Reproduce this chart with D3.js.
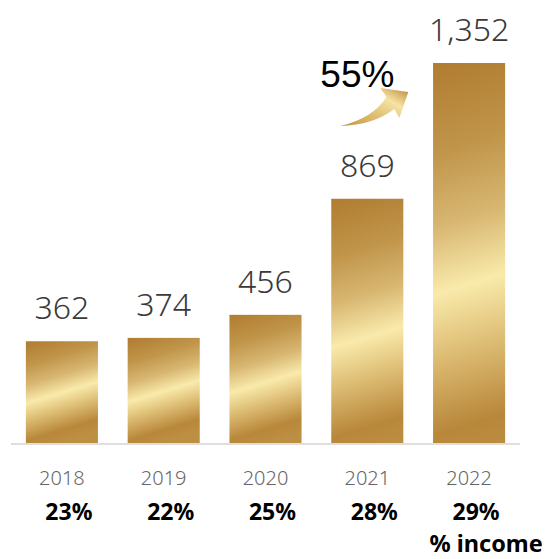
<!DOCTYPE html>
<html>
<head>
<meta charset="utf-8">
<script src="https://cdn.jsdelivr.net/npm/d3@7"></script>
<style>
  html, body { margin: 0; padding: 0; background: #fff; }
  svg { display: block; }
</style>
</head>
<body>
<svg id="chart" width="548" height="559"></svg>
<script>
// Annual figures and their share of income
const years = ["2018", "2019", "2020", "2021", "2022"];
const values = [362, 374, 456, 869, 1352];
const shares = ["23%", "22%", "25%", "28%", "29%"];
const growthLabel = "55%";
const shareTitle = "% income";

const svg = d3.select("#chart");
const baseY = 443;

const x = d3.scaleBand()
  .domain(years)
  .range([11, 520])
  .paddingInner(0.292)
  .paddingOuter(0.146);

const y = d3.scaleLinear()
  .domain([0, d3.max(values)])
  .range([baseY, 63]);

const fmt = d3.format(",");
const defs = svg.append("defs");

// gold sheen: dark top, pale band across the middle, dark again near the foot
const goldStops = [
  [0, "#b07c30"],
  [0.22, "#c0954a"],
  [0.40, "#d8b772"],
  [0.56, "#f9eaab"],
  [0.72, "#dcbb72"],
  [0.90, "#b8873a"],
  [1, "#bd8f42"]
];
const tilt = 0.3; // slope of the sheen band across a bar

const data = years.map((yr, i) => ({ year: yr, value: values[i], share: shares[i], i }));

data.forEach(d => {
  const x0 = x(d.year), y0 = y(d.value), h = baseY - y0;
  const g = defs.append("linearGradient")
    .attr("id", "gold" + d.i)
    .attr("gradientUnits", "userSpaceOnUse")
    .attr("x1", x0).attr("y1", y0)
    .attr("x2", x0 + tilt * h).attr("y2", y0 + h);
  goldStops.forEach(s => g.append("stop").attr("offset", s[0]).attr("stop-color", s[1]));
});

// baseline
svg.append("line")
  .attr("x1", 11).attr("x2", 520)
  .attr("y1", baseY + 1).attr("y2", baseY + 1)
  .attr("stroke", "#dedede")
  .attr("stroke-width", 2);

// bars
svg.append("g").selectAll("rect")
  .data(data)
  .join("rect")
  .attr("x", d => x(d.year))
  .attr("y", d => y(d.value))
  .attr("width", x.bandwidth())
  .attr("height", d => baseY - y(d.value))
  .attr("fill", d => `url(#gold${d.i})`);

// value labels
svg.append("g").selectAll("text")
  .data(data)
  .join("text")
  .attr("x", d => x(d.year) + x.bandwidth() / 2)
  .attr("y", d => y(d.value) - 22)
  .attr("text-anchor", "middle")
  .attr("font-family", "'Noto Sans', sans-serif")
  .attr("font-weight", 300)
  .attr("font-size", 32)
  .attr("fill", "#3a3a3a")
  .text(d => fmt(d.value));

// year labels
const xAxis = svg.append("g")
  .attr("transform", `translate(0,${baseY})`)
  .call(d3.axisBottom(x).tickSize(0).tickPadding(0));
xAxis.select(".domain").remove();
xAxis.selectAll("text")
  .attr("y", 42)
  .attr("dy", 0)
  .attr("font-family", "'Noto Sans', sans-serif")
  .attr("font-weight", 300)
  .attr("font-size", 20)
  .attr("fill", "#666");

// income share labels
svg.append("g").selectAll("text")
  .data(data)
  .join("text")
  .attr("x", d => x(d.year) + x.bandwidth() / 2 + 7)
  .attr("y", 520)
  .attr("text-anchor", "middle")
  .attr("font-family", "'Noto Sans', sans-serif")
  .attr("font-weight", 700)
  .attr("font-size", 23)
  .attr("fill", "#000")
  .text(d => d.share);

svg.append("text")
  .attr("x", x(years[4]) + x.bandwidth() / 2 + 17)
  .attr("y", 552)
  .attr("text-anchor", "middle")
  .attr("font-family", "'Noto Sans', sans-serif")
  .attr("font-weight", 700)
  .attr("font-size", 23.5)
  .attr("fill", "#000")
  .text(shareTitle);

// growth arrow between the last two bars
const ag = defs.append("linearGradient")
  .attr("id", "arrowGold")
  .attr("x1", 0).attr("y1", 1).attr("x2", 1).attr("y2", 0);
[[0, "#c39540"], [0.45, "#e2c47c"], [0.7, "#f6e3a2"], [1, "#b8873a"]]
  .forEach(s => ag.append("stop").attr("offset", s[0]).attr("stop-color", s[1]));

const ax = x(years[3]) + x.bandwidth();   // right edge of 2021 bar
const ay = y(values[4]);                   // top of 2022 bar
const arrow = d3.path();
arrow.moveTo(ax - 63, ay + 63);
arrow.quadraticCurveTo(ax - 30, ay + 55, ax - 17, ay + 34);
arrow.lineTo(ax - 23, ay + 25);
arrow.lineTo(ax + 5, ay + 29);
arrow.lineTo(ax - 4, ay + 55);
arrow.lineTo(ax - 9, ay + 46);
arrow.quadraticCurveTo(ax - 30, ay + 62, ax - 63, ay + 63);
arrow.closePath();
svg.append("path")
  .attr("d", arrow.toString())
  .attr("fill", "url(#arrowGold)");

svg.append("text")
  .attr("x", ax - 83)
  .attr("y", ay + 24)
  .attr("font-family", "'Liberation Sans', Arial, sans-serif")
  .attr("font-size", 37)
  .attr("fill", "#000")
  .text(growthLabel);
</script>
</body>
</html>
